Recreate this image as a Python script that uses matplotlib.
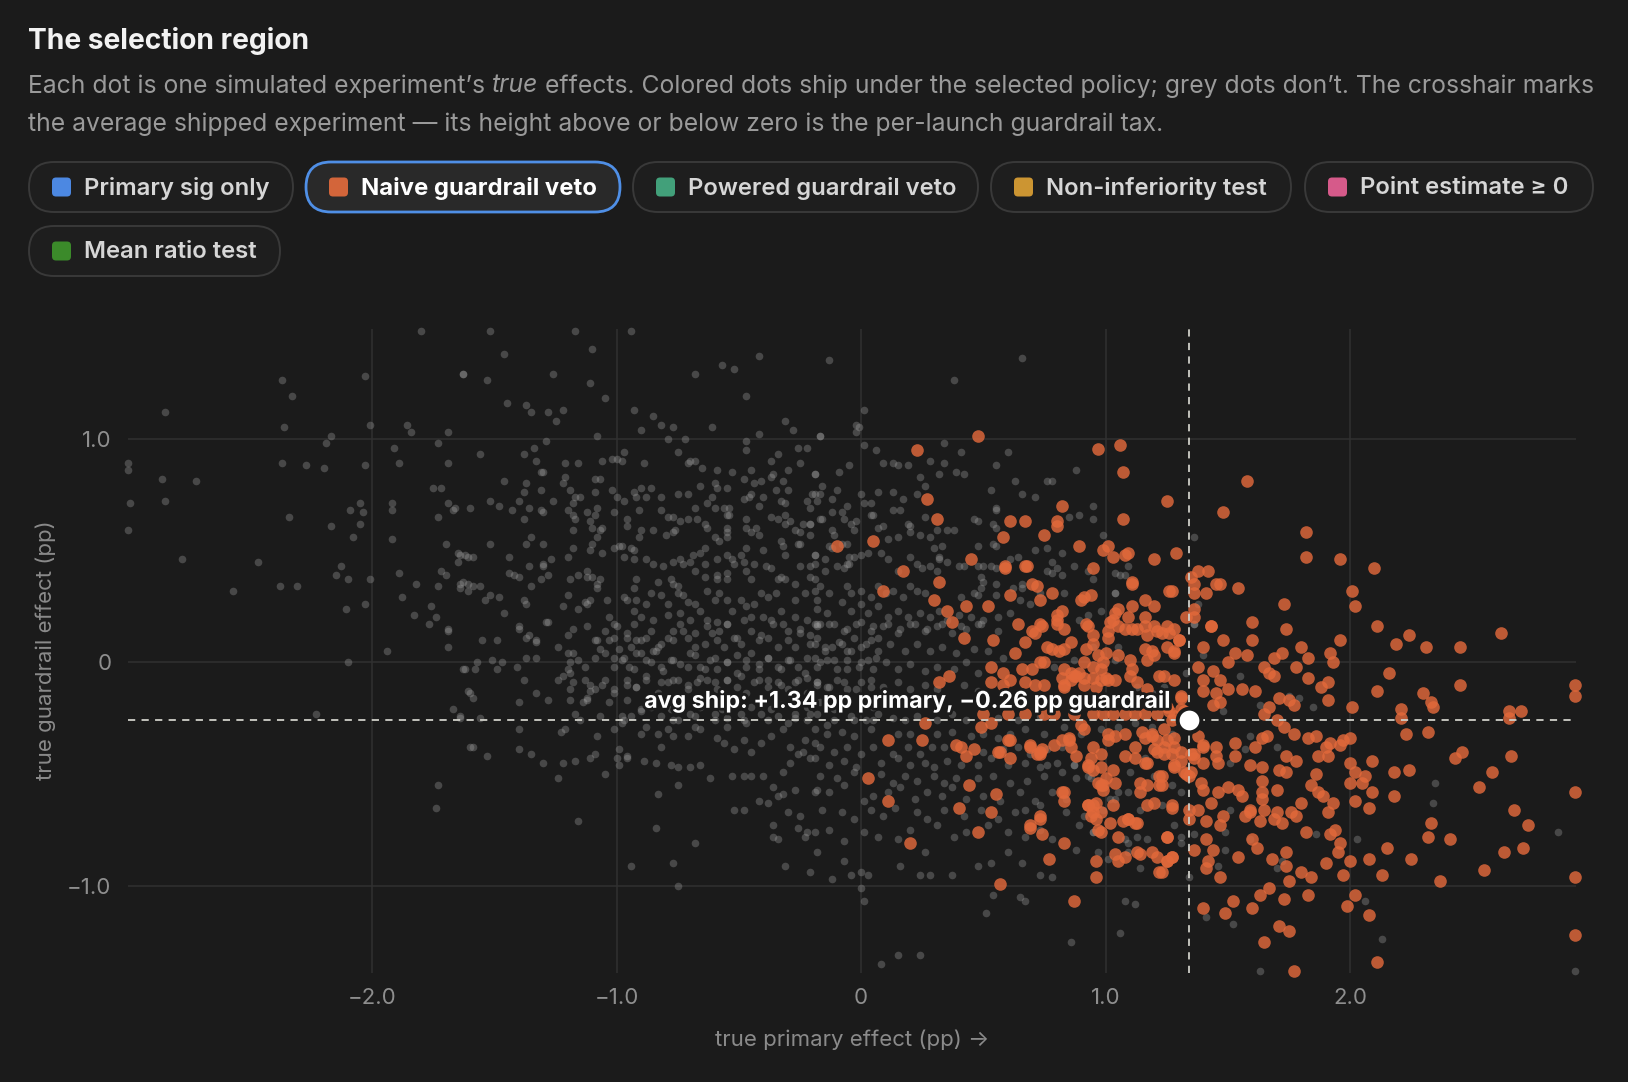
import numpy as np
import matplotlib
matplotlib.use('Agg')
import matplotlib.pyplot as plt
from matplotlib.patches import FancyBboxPatch
import matplotlib.patheffects as pe

plt.rcParams['font.family'] = ['Inter', 'DejaVu Sans']

BG = '#1b1b1b'

title = "The selection region"
sub_line_1 = [("Each dot is one simulated experiment’s ", 'normal'), ("true", 'italic'),
              (" effects. Colored dots ship under the selected policy; grey dots don’t. The crosshair marks", 'normal')]
sub_line_2 = "the average shipped experiment — its height above or below zero is the per-launch guardrail tax."

policy_labels = ["Primary sig only", "Naive guardrail veto", "Powered guardrail veto",
                 "Non-inferiority test", "Point estimate ≥ 0", "Mean ratio test"]
policy_colors = ['#4c88e2', '#d3653a', '#42a07a', '#cc9532', '#d65a8a', '#3b8a2a']
selected_policy = 1

x_ticks = [-2, -1, 0, 1, 2]
x_ticklabels = ['−2.0', '−1.0', '0', '1.0', '2.0']
y_ticks = [-1, 0, 1]
y_ticklabels = ['−1.0', '0', '1.0']
x_label = 'true primary effect (pp) →'
y_label = 'true guardrail effect (pp)'
avg_primary = 1.34
avg_guardrail = -0.26

gray_pts = [
# far left / upper left
(-1.80,1.48),(-1.63,1.29),(-2.03,1.28),(-2.37,1.26),(-2.33,1.19),(-2.85,1.12),(-2.36,1.05),(-2.01,1.06),(-1.86,1.06),(-1.84,1.03),
(-1.69,1.03),(-2.17,1.01),(-2.19,0.98),(-1.91,0.96),(-1.73,0.98),(-3.00,0.89),(-3.00,0.86),(-2.86,0.82),(-2.72,0.81),(-2.99,0.71),
(-2.85,0.72),(-3.00,0.59),(-2.37,0.89),(-2.27,0.88),(-2.20,0.87),(-2.03,0.88),(-1.89,0.89),(-1.69,0.89),(-2.34,0.65),(-2.17,0.61),
(-2.09,0.68),(-2.05,0.71),(-2.04,0.67),(-2.05,0.62),(-2.08,0.56),(-1.92,0.71),(-1.92,0.68),(-1.92,0.55),(-1.75,0.78),(-1.72,0.78),
(-1.69,0.71),(-1.67,0.68),(-1.73,0.65),(-1.70,0.53),(-1.66,0.69),(-1.65,0.49),(-1.62,0.48),(-1.65,0.45),(-1.72,0.41),(-1.70,0.39),
(-1.63,0.36),(-1.64,0.33),(-1.61,0.32),(-2.78,0.46),(-2.47,0.45),(-2.57,0.32),(-2.38,0.34),(-2.31,0.34),(-2.13,0.43),(-2.15,0.39),
(-2.10,0.37),(-2.01,0.37),(-1.89,0.40),(-1.88,0.29),(-1.82,0.35),(-1.73,0.34),(-2.11,0.24),(-2.03,0.26),(-1.83,0.21),(-1.76,0.25),
(-1.74,0.20),(-1.77,0.17),(-1.69,0.15),
(-1.69,0.14),(-1.69,0.07),(-1.94,0.05),(-2.10,-0.00),(-1.63,-0.03),(-1.61,-0.13),(-1.67,-0.21),(-1.64,-0.25),(-2.23,-0.23),(-1.60,-0.38),
(-1.73,-0.55),(-1.74,-0.65),
# upper middle-left
(-1.52,1.48),(-1.17,1.48),(-0.94,1.48),(-1.10,1.40),(-1.46,1.38),(-0.42,1.37),(-0.57,1.33),(-0.52,1.31),(-0.68,1.29),(-1.63,1.29),
(-1.26,1.29),(-1.53,1.26),(-1.11,1.25),(-0.47,1.19),(-1.05,1.18),(-1.45,1.16),(-1.37,1.15),(-1.35,1.12),(-1.28,1.12),(-1.22,1.13),
(-1.25,1.08),(-0.93,1.13),(-0.85,1.10),(-0.82,1.06),(-0.77,1.05),(-0.90,1.04),(-0.61,1.05),(-0.31,1.08),(-0.28,1.04),(-1.08,1.01),
(-1.29,0.99),(-0.79,1.00),(-0.72,1.00),(-0.47,0.99),(-0.47,0.95),(-0.42,1.02),(-0.17,1.01),(-0.26,0.96),(-0.22,0.96),(-1.56,0.93),
(-1.38,0.93),(-1.34,0.96),(-1.33,0.90),(-1.21,0.89),(-1.16,0.89),(-1.06,0.90),(-1.02,0.91),(-1.00,0.91),(-0.98,0.90),(-0.97,0.94),
(-0.89,0.89),(-0.75,0.94),(-0.70,0.90),(-0.71,0.89),(-0.68,0.90),(-0.65,0.87),(-0.59,0.86),(-0.53,0.85),(-0.48,0.82),(-0.45,0.86),
(-0.37,0.90),(-0.34,0.93),(-0.25,0.89),(-0.44,0.80),(-0.41,0.81),(-0.37,0.83),(-0.36,0.84),(-0.32,0.81),(-0.30,0.86),(-0.19,0.84),
(-1.31,0.85),(-1.30,0.85),(-1.46,0.81),(-1.37,0.80),(-1.22,0.80),(-1.21,0.83),(-1.09,0.82),(-1.07,0.82),(-1.38,0.76),(-1.31,0.77),
(-1.26,0.72),(-1.19,0.77),(-1.17,0.74),(-1.15,0.74),(-1.09,0.76),(-1.02,0.77),(-1.00,0.74),(-0.97,0.72),(-0.93,0.76),(-0.90,0.78),
(-0.86,0.78),(-0.92,0.74),(-0.88,0.74),(-0.82,0.74),(-0.75,0.75),(-0.71,0.75),(-0.66,0.79),(-0.60,0.80),(-0.59,0.78),(-0.55,0.78),
(-0.61,0.74),(-0.63,0.71),(-0.60,0.69),(-0.56,0.69),(-0.54,0.69),(-0.55,0.66),(-0.48,0.73),(-0.46,0.74),(-0.45,0.75),(-0.42,0.70),
(-0.40,0.74),(-0.35,0.77),(-0.30,0.77),(-0.33,0.72),(-0.31,0.71),(-0.22,0.72),(-0.20,0.75),(-0.18,0.72),(-0.21,0.69),(-1.60,0.69),
(-1.52,0.72),(-1.48,0.70),(-1.43,0.68),(-1.40,0.72),(-1.36,0.69),(-1.31,0.68),(-1.30,0.67),(-1.20,0.68),(-1.18,0.71),(-1.18,0.66),
(-1.17,0.64),(-1.12,0.67),(-1.11,0.63),(-1.09,0.66),(-1.08,0.69),(-1.10,0.60),(-1.07,0.59),(-1.06,0.60),(-1.08,0.56),(-1.38,0.64),
(-1.18,0.59),(-1.10,0.53),(-1.35,0.56),(-1.37,0.53),(-1.30,0.53),(-1.01,0.67),(-0.96,0.61),(-0.96,0.64),(-0.91,0.68),(-0.90,0.59),
(-0.91,0.56),(-0.85,0.59),(-0.82,0.68),(-0.79,0.65),(-0.77,0.65),(-0.74,0.63),(-0.80,0.57),(-0.77,0.58),(-0.76,0.59),(-0.71,0.64),
(-0.67,0.64),(-0.68,0.69),(-0.64,0.62),(-0.63,0.60),(-0.60,0.56),(-0.58,0.54),(-0.55,0.60),(-0.55,0.58),(-0.55,0.56),(-0.54,0.66),
(-0.47,0.64),(-0.47,0.60),(-0.45,0.58),(-0.43,0.60),(-0.42,0.57),(-0.47,0.51),(-0.40,0.50),(-0.37,0.65),(-0.34,0.64),(-0.31,0.66),
(-0.31,0.62),(-0.29,0.63),(-0.27,0.59),(-0.25,0.58),(-0.24,0.62),(-0.21,0.62),(-0.17,0.64),(-0.33,0.54),(-0.32,0.52),(-0.31,0.48),
(-0.26,0.53),(-0.25,0.53),(-1.52,0.53),(-1.64,0.48),(-1.61,0.47),(-1.59,0.47),(-1.44,0.47),(-1.36,0.43),(-1.30,0.44),(-1.30,0.43),
(-1.27,0.46),(-1.44,0.40),(-1.42,0.39),(-1.40,0.38),(-1.28,0.39),(-1.31,0.37),(-1.20,0.47),(-1.18,0.51),(-1.11,0.50),(-1.06,0.49),
(-1.19,0.37),(-1.16,0.39),(-1.12,0.41),(-1.12,0.38),(-1.10,0.38),(-1.08,0.35),(-1.07,0.37),(-1.01,0.51),(-0.99,0.52),(-0.98,0.52),
(-0.94,0.51),(-0.93,0.50),(-0.97,0.47),(-0.93,0.46),(-0.88,0.46),(-0.85,0.44),(-0.81,0.43),(-0.92,0.37),(-0.93,0.33),(-0.83,0.36),
(-0.78,0.37),(-0.77,0.35),(-0.75,0.34),(-0.77,0.45),(-0.74,0.46),(-0.73,0.44),(-0.70,0.45),(-0.69,0.48),(-0.66,0.49),(-0.64,0.51),
(-0.68,0.41),(-0.64,0.44),(-0.59,0.46),(-0.55,0.48),(-0.53,0.46),(-0.52,0.44),(-0.64,0.38),(-0.59,0.37),(-0.59,0.39),(-0.55,0.40),
(-0.55,0.37),(-0.49,0.48),(-0.48,0.45),(-0.47,0.41),(-0.45,0.37),(-0.44,0.44),(-0.39,0.43),(-0.37,0.42),(-0.34,0.37),(-0.33,0.38),
(-0.31,0.37),(-0.27,0.35),(-0.25,0.43),(-0.21,0.38),(-0.21,0.43),(-0.19,0.48),(-1.64,0.35),(-1.61,0.35),(-1.59,0.34),(-1.56,0.34),
(-1.54,0.28),(-1.52,0.30),(-1.48,0.29),(-1.38,0.28),(-1.37,0.26),(-1.35,0.34),(-1.46,0.22),(-1.40,0.15),(-1.29,0.18),(-1.22,0.25),
(-1.20,0.30),(-1.16,0.24),(-1.12,0.26),(-1.11,0.28),(-1.13,0.27),(-1.08,0.33),(-1.04,0.28),(-1.03,0.20),(-1.01,0.17),(-0.97,0.29),
(-0.96,0.28),(-0.92,0.28),(-0.88,0.26),(-0.86,0.31),(-0.82,0.30),(-0.79,0.26),(-0.75,0.31),(-0.73,0.30),(-0.71,0.27),(-0.68,0.26),
(-0.66,0.23),(-0.93,0.23),(-0.90,0.20),(-0.85,0.19),(-0.79,0.21),(-0.74,0.22),(-0.70,0.19),(-0.63,0.32),(-0.60,0.28),(-0.58,0.31),
(-0.55,0.28),(-0.53,0.23),(-0.49,0.28),(-0.47,0.25),(-0.44,0.26),(-0.41,0.31),(-0.38,0.29),(-0.35,0.31),(-0.33,0.23),(-0.27,0.28),
(-0.23,0.31),(-0.19,0.32),(-0.18,0.28),(-0.63,0.19),(-0.59,0.18),(-0.55,0.17),(-0.48,0.19),(-0.45,0.20),(-0.40,0.20),(-0.37,0.19),
(-0.32,0.17),(-0.27,0.20),(-0.22,0.19),(-0.19,0.17),
# upper middle-right
(-0.13,1.35),(0.66,1.36),(0.38,1.26),(0.01,1.13),(-0.02,1.06),(-0.01,1.05),(-0.02,1.03),(-0.17,1.01),(0.01,0.97),(0.06,0.95),
(0.34,0.98),(0.41,0.94),(0.60,0.94),(-0.05,0.88),(0.09,0.89),(0.13,0.89),(0.15,0.88),(0.19,0.88),(0.28,0.90),(0.34,0.89),
(0.55,0.88),(-0.09,0.85),(-0.19,0.84),(0.32,0.84),(0.39,0.85),(0.42,0.84),(0.88,0.86),(0.24,0.83),(0.26,0.79),(0.63,0.81),
(0.76,0.81),(0.78,0.81),(-0.16,0.79),(-0.10,0.77),(-0.00,0.75),(0.07,0.76),(0.13,0.76),(0.23,0.75),(0.53,0.77),(0.66,0.75),
(0.71,0.74),(-0.19,0.75),(-0.17,0.75),(-0.12,0.73),(-0.06,0.70),(0.01,0.71),(0.04,0.71),(0.17,0.73),(0.13,0.68),(0.16,0.68),
(0.55,0.68),(0.55,0.69),(0.95,0.70),(0.95,0.64),(0.85,0.65),(0.89,0.66),(-0.12,0.67),(-0.08,0.67),(-0.07,0.64),(-0.16,0.64),
(0.04,0.66),(0.05,0.66),(-0.04,0.62),(-0.02,0.63),(-0.03,0.59),(0.07,0.60),(0.09,0.61),(0.19,0.62),(0.20,0.61),(0.20,0.58),
(0.24,0.57),(0.28,0.56),(0.11,0.55),(0.15,0.56),(0.26,0.65),(0.31,0.59),(0.35,0.59),(0.38,0.59),(0.46,0.64),(0.48,0.63),
(0.54,0.62),(0.55,0.60),(0.54,0.53),(0.55,0.52),(-0.12,0.59),(-0.11,0.57),(-0.21,0.62),(-0.21,0.57),(-0.13,0.52),(-0.12,0.51),
(-0.08,0.53),(-0.06,0.53),(-0.19,0.48),(-0.15,0.46),(-0.05,0.47),(-0.05,0.44),(-0.03,0.47),(-0.00,0.48),(0.03,0.49),(0.08,0.49),
(0.11,0.46),(0.15,0.41),(0.20,0.47),(0.23,0.44),(0.30,0.51),(0.33,0.52),(0.32,0.47),(0.32,0.46),(0.35,0.45),(0.25,0.42),
(0.28,0.43),(0.31,0.41),(-0.19,0.44),(-0.15,0.41),(-0.10,0.43),(-0.07,0.42),(-0.06,0.44),(0.48,0.52),(0.40,0.43),(0.42,0.43),
(0.48,0.43),(0.50,0.43),(0.53,0.43),(0.55,0.42),(0.49,0.38),(0.50,0.36),(0.55,0.35),(0.61,0.46),(0.64,0.47),(0.71,0.50),
(0.76,0.51),(0.82,0.49),(0.78,0.45),(0.80,0.42),(0.78,0.40),(0.93,0.41),(1.09,0.43),(1.08,0.39),(1.06,0.39),(0.99,0.57),
(0.62,0.33),(0.66,0.33),(0.66,0.35),(0.73,0.31),(0.55,0.30),(0.65,0.28),(0.69,0.26),(0.41,0.29),(0.46,0.31),(0.48,0.30),
(0.49,0.33),(0.40,0.21),(0.45,0.20),(0.50,0.19),(0.56,0.20),(0.61,0.22),(0.93,0.21),(1.04,0.31),
(-0.19,0.37),(-0.17,0.34),(-0.13,0.31),(-0.06,0.34),(-0.04,0.31),(0.00,0.32),(0.04,0.29),(0.07,0.34),(0.10,0.31),(0.13,0.32),
(0.17,0.29),(0.20,0.34),(0.23,0.32),(0.26,0.31),(-0.18,0.24),(-0.14,0.22),(-0.08,0.27),(-0.04,0.23),(-0.00,0.26),(0.03,0.22),
(0.07,0.25),(0.11,0.20),(0.15,0.23),(0.19,0.20),(0.24,0.22),(0.28,0.20),(0.32,0.23),(0.35,0.19),(-0.17,0.17),(-0.11,0.17),
(-0.06,0.15),(-0.00,0.18),(0.05,0.16),(0.11,0.17),(0.16,0.15),(0.22,0.17),(0.27,0.15),(0.33,0.17),(0.41,0.16),(0.48,0.17),
# lower left
(-1.55,0.10),(-1.49,0.10),(-1.40,0.16),(-1.37,0.11),(-1.33,0.10),(-1.28,0.18),(-1.24,0.07),(-1.20,0.12),(-1.18,0.04),(-1.37,0.02),
(-1.33,0.02),(-1.36,0.12),(-1.33,0.09),(-1.62,-0.03),(-1.58,-0.03),(-1.57,-0.00),(-1.51,0.01),(-1.49,-0.03),(-1.47,-0.00),(-1.41,-0.02),
(-1.38,-0.08),(-1.24,-0.08),(-1.20,-0.03),(-1.19,-0.00),(-1.11,-0.10),(-1.06,-0.10),(-1.01,-0.12),(-1.01,0.02),(-1.60,-0.14),(-1.59,-0.16),
(-1.40,-0.18),(-1.33,-0.14),(-1.28,-0.17),(-1.19,-0.12),(-1.19,-0.05),(-1.14,-0.18),(-1.12,-0.17),(-1.11,-0.13),(-1.17,-0.23),(-1.09,0.10),
(-1.03,0.10),(-1.07,0.06),(-1.56,-0.25),(-1.64,-0.24),(-1.40,-0.30),(-1.23,-0.31),(-1.21,-0.30),(-1.08,-0.33),(-1.01,-0.30),(-0.98,-0.27),
(-0.98,-0.24),(-1.59,-0.38),(-1.53,-0.42),(-1.40,-0.39),(-1.35,-0.41),(-1.30,-0.45),(-1.22,-0.45),(-1.17,-0.44),(-1.11,-0.43),(-1.09,-0.41),
(-1.05,-0.50),(-1.24,-0.52),(-0.99,-0.39),(-0.96,-0.42),(-0.99,-0.46),(-1.16,-0.71),(-0.84,-0.74),(-0.68,-0.81),(-0.94,-0.91),(-0.77,-0.90),
(-0.75,-1.00),
(-1.00,0.16),(-0.96,0.13),(-0.93,0.17),(-0.90,0.10),(-0.85,0.05),(-0.82,0.08),(-0.77,0.14),(-0.74,0.17),(-0.68,0.13),(-0.63,0.16),
(-0.58,0.14),(-0.55,0.17),(-0.51,0.11),(-0.45,0.14),(-0.41,0.12),(-0.36,0.17),(-0.30,0.14),(-0.25,0.15),(-0.21,0.12),(-0.18,0.17),
(-0.97,0.02),(-0.93,-0.03),(-0.90,0.04),(-0.86,-0.00),(-0.81,-0.04),(-0.77,0.01),(-0.71,-0.02),(-0.68,0.03),(-0.64,-0.03),(-0.60,0.02),
(-0.55,-0.00),(-0.51,-0.05),(-0.47,0.01),(-0.42,-0.03),(-0.38,0.02),(-0.33,-0.03),(-0.29,0.01),(-0.23,-0.05),(-0.19,0.02),
(-0.96,-0.10),(-0.92,-0.11),(-0.88,-0.06),(-0.82,-0.09),(-0.77,-0.08),(-0.71,-0.10),(-0.66,-0.07),(-0.60,-0.09),(-0.55,-0.08),(-0.49,-0.06),
(-0.44,-0.09),(-0.38,-0.08),(-0.33,-0.10),(-0.27,-0.09),(-0.22,-0.07),(-0.18,-0.10),
(-0.94,-0.24),(-0.90,-0.22),(-0.82,-0.24),(-0.77,-0.26),(-0.68,-0.24),(-0.60,-0.23),(-0.55,-0.25),(-0.48,-0.26),(-0.41,-0.23),(-0.34,-0.24),
(-0.27,-0.25),(-0.21,-0.23),(-0.90,-0.32),(-0.88,-0.29),(-0.83,-0.32),(-0.82,-0.38),(-0.79,-0.30),(-0.77,-0.33),(-0.71,-0.33),(-0.66,-0.30),
(-0.59,-0.34),(-0.56,-0.36),(-0.52,-0.39),(-0.48,-0.35),(-0.45,-0.40),(-0.41,-0.36),(-0.37,-0.33),(-0.32,-0.30),(-0.29,-0.38),(-0.26,-0.41),
(-0.23,-0.35),(-0.19,-0.36),(-1.00,-0.43),(-0.96,-0.43),(-0.89,-0.44),(-0.84,-0.45),(-0.78,-0.46),(-0.75,-0.47),(-0.70,-0.47),(-0.66,-0.46),
(-0.62,-0.52),(-0.53,-0.51),(-0.48,-0.51),(-0.45,-0.51),(-0.40,-0.51),(-0.36,-0.56),(-0.32,-0.49),(-0.29,-0.45),(-0.24,-0.40),(-0.21,-0.43),
(-0.83,-0.59),(-0.75,-0.55),(-0.42,-0.62),(-0.38,-0.63),(-0.34,-0.60),(-0.32,-0.59),(-0.27,-0.57),(-0.19,-0.58),(-0.52,-0.66),(-0.48,-0.66),
(-0.30,-0.67),(-0.25,-0.69),(-0.36,-0.73),(-0.36,-0.78),(-0.34,-0.79),(-0.26,-0.74),(-0.22,-0.76),(-0.23,-0.78),(-0.31,-0.91),(-0.21,-0.94),
# dense centre band (near zero)
(-1.18,0.15),(-1.12,0.16),(-1.08,0.10),(-1.05,0.14),(-1.01,0.11),(-0.99,0.06),(-0.96,0.11),(-0.94,0.07),(-0.92,0.10),(-0.88,0.11),
(-0.86,0.14),(-0.83,0.07),(-0.79,0.11),(-0.77,0.10),(-0.73,0.14),(-0.71,0.11),(-0.68,0.07),(-0.64,0.08),(-0.61,0.13),(-0.59,0.10),
(-0.56,0.07),(-0.52,0.11),(-0.49,0.08),(-0.45,0.04),(-0.42,0.10),(-0.38,0.11),(-0.34,0.07),(-0.30,0.10),(-0.27,0.07),(-0.25,0.13),
(-0.21,0.08),(-0.18,0.11),(-0.15,0.05),(-0.12,0.07),(-0.08,0.08),(-0.06,0.05),(-0.03,0.11),(0.00,0.07),(0.04,0.10),(0.07,0.11),
(-1.20,0.04),(-1.16,0.01),(-1.13,-0.02),(-1.09,0.02),(-1.05,0.04),(-1.01,-0.02),(-0.98,0.01),(-0.95,-0.02),(-0.92,0.04),(-0.88,0.01),
(-0.84,0.05),(-0.82,-0.02),(-0.78,0.01),(-0.74,-0.01),(-0.70,0.04),(-0.66,-0.02),(-0.62,0.01),(-0.59,-0.03),(-0.55,0.00),(-0.51,0.03),
(-0.47,-0.02),(-0.42,-0.01),(-0.38,0.02),(-0.34,-0.02),(-0.30,0.01),(-0.26,-0.02),(-0.22,0.02),(-0.18,-0.02),(-0.14,0.01),(-0.10,-0.03),
(-0.06,0.01),(-0.01,-0.02),(0.03,0.01),(0.06,0.02),
(-1.22,-0.06),(-1.18,-0.09),(-1.13,-0.08),(-1.09,-0.12),(-1.05,-0.08),(-1.01,-0.14),(-0.96,-0.08),(-0.92,-0.11),(-0.88,-0.08),(-0.83,-0.14),
(-0.79,-0.09),(-0.75,-0.08),(-0.71,-0.12),(-0.67,-0.09),(-0.63,-0.08),(-0.59,-0.12),(-0.55,-0.08),(-0.51,-0.11),(-0.47,-0.14),(-0.42,-0.08),
(-0.38,-0.11),(-0.34,-0.09),(-0.30,-0.12),(-0.26,-0.08),(-0.22,-0.14),(-0.18,-0.09),(-0.14,-0.11),(-0.10,-0.08),(-0.06,-0.12),(0.00,-0.09),
(0.04,-0.11),
(-1.19,-0.17),(-1.12,-0.16),(-1.03,-0.18),(-0.96,-0.17),(-0.90,-0.21),(-0.86,-0.20),(-0.82,-0.17),(-0.78,-0.21),(-0.74,-0.18),(-0.70,-0.23),
(-0.66,-0.20),(-0.62,-0.17),(-0.57,-0.21),(-0.53,-0.18),(-0.49,-0.23),(-0.45,-0.20),(-0.41,-0.17),(-0.37,-0.21),(-0.33,-0.19),(-0.27,-0.23),
(-0.22,-0.20),(-0.17,-0.18),(-0.11,-0.21),(-0.06,-0.18),(0.00,-0.21),(0.05,-0.20),
(-1.15,-0.26),(-1.07,-0.24),(-0.97,-0.26),(-0.75,-0.26),(-0.68,-0.29),(-0.60,-0.26),(-0.55,-0.29),(-0.47,-0.27),(-0.38,-0.26),(-0.30,-0.27),
(-0.22,-0.26),(-0.14,-0.28),(-0.03,-0.26),(0.05,-0.26),
# lower middle
(-0.18,0.16),(-0.13,0.17),(-0.07,0.14),(-0.02,0.17),(0.04,0.14),(0.09,0.16),(0.15,0.13),(0.20,0.17),(0.26,0.14),(0.31,0.16),
(0.37,0.13),(0.43,0.15),(0.49,0.17),(0.56,0.14),(-0.19,0.08),(-0.15,0.07),(-0.09,0.09),(-0.04,0.05),(0.02,0.08),(0.07,0.05),
(0.12,0.08),(0.18,0.05),(0.23,0.08),(0.28,0.05),(0.33,0.07),(0.39,0.04),(0.46,0.06),(0.52,0.05),(0.58,0.02),(-0.17,-0.00),
(-0.11,0.01),(-0.06,-0.03),(-0.00,0.00),(0.05,-0.03),(0.10,-0.00),(0.15,-0.03),(0.20,-0.01),(0.26,-0.04),(0.31,-0.02),(0.38,-0.03),
(0.43,-0.00),(0.48,-0.05),(-0.18,-0.09),(-0.13,-0.11),(-0.07,-0.09),(-0.02,-0.12),(0.04,-0.08),(0.09,-0.11),(0.15,-0.09),(0.20,-0.12),
(0.26,-0.10),(0.31,-0.12),(0.42,-0.10),(0.48,-0.13),
(-0.18,-0.23),(-0.11,-0.26),(-0.04,-0.24),(0.02,-0.26),(0.07,-0.23),(0.13,-0.25),(0.18,-0.26),(0.23,-0.24),(0.31,-0.26),(0.37,-0.23),
(0.43,-0.26),(0.56,-0.25),(0.64,-0.26),(0.73,-0.24),(-0.19,-0.30),(-0.14,-0.32),(-0.08,-0.31),(-0.03,-0.33),(0.04,-0.30),(0.15,-0.32),
(0.20,-0.32),(0.31,-0.32),(0.37,-0.31),(0.45,-0.33),(0.50,-0.32),(0.56,-0.34),(0.61,-0.32),(0.67,-0.30),(0.75,-0.32),(-0.17,-0.38),
(-0.11,-0.40),(-0.06,-0.38),(-0.00,-0.41),(0.05,-0.38),(0.13,-0.41),(0.19,-0.38),(0.24,-0.41),(0.29,-0.38),(0.34,-0.38),(0.50,-0.40),
(0.58,-0.39),(0.64,-0.38),(0.69,-0.41),(0.76,-0.39),(0.82,-0.38),(-0.19,-0.43),(-0.13,-0.46),(-0.07,-0.44),(-0.02,-0.47),(0.08,-0.45),
(0.15,-0.43),(0.20,-0.46),(0.26,-0.45),(0.30,-0.47),(0.35,-0.44),(0.41,-0.46),(0.48,-0.46),(0.53,-0.43),(0.60,-0.46),(0.67,-0.45),
(0.73,-0.47),(0.80,-0.45),(0.87,-0.46),(-0.17,-0.51),(-0.10,-0.52),(-0.03,-0.49),(0.08,-0.50),(0.13,-0.54),(0.18,-0.51),(0.23,-0.53),
(0.30,-0.51),(0.34,-0.54),(0.39,-0.52),(0.48,-0.52),(0.54,-0.51),(0.61,-0.54),(0.68,-0.53),(0.75,-0.51),(0.88,-0.52),(0.93,-0.51),
(-0.18,-0.57),(-0.13,-0.58),(-0.07,-0.55),(0.01,-0.62),(0.05,-0.60),(0.11,-0.58),(0.16,-0.56),(0.22,-0.61),(0.27,-0.58),(0.33,-0.60),
(0.37,-0.56),(0.43,-0.61),(0.50,-0.60),(0.57,-0.62),(0.65,-0.58),(0.71,-0.62),(0.78,-0.58),(0.84,-0.61),(1.02,-0.61),(1.09,-0.58),
(-0.16,-0.66),(-0.08,-0.67),(-0.03,-0.70),(0.04,-0.66),(0.09,-0.69),(0.14,-0.65),(0.23,-0.67),(0.27,-0.70),(0.34,-0.66),(0.42,-0.69),
(0.49,-0.66),(0.56,-0.70),(0.63,-0.67),(0.67,-0.66),(0.73,-0.64),(0.91,-0.69),(0.99,-0.66),(1.14,-0.66),(1.23,-0.64),(-0.19,-0.76),
(-0.13,-0.75),(-0.07,-0.80),(0.01,-0.76),(0.07,-0.78),(0.15,-0.79),(0.20,-0.75),(0.26,-0.85),(0.31,-0.73),(0.38,-0.78),(0.43,-0.76),
(0.52,-0.73),(0.60,-0.76),(0.67,-0.78),(0.73,-0.75),(0.78,-0.79),(0.88,-0.84),(0.95,-0.76),(1.08,-0.79),(1.13,-0.78),(-0.18,-0.85),
(-0.12,-0.97),(-0.07,-0.89),(-0.04,-0.95),(-0.00,-0.94),(0.03,-0.95),(0.16,-0.91),(0.24,-0.95),(0.28,-0.95),(0.37,-0.95),(0.48,-0.91),
(0.53,-0.90),(0.60,-0.85),(0.66,-0.90),(0.73,-0.95),(0.78,-0.96),(0.97,-0.85),(1.01,-0.88),(1.09,-0.85),(1.14,-0.92),(-0.00,-1.01),
(0.01,-1.07),(0.08,-1.35),(0.15,-1.31),(0.24,-1.31),(0.51,-1.12),(0.54,-1.04),(0.65,-1.05),(0.67,-1.07),(0.86,-1.25),(1.06,-1.21),
(1.08,-1.07),(1.12,-1.08),
# among shipped cloud
(0.76,0.41),(0.82,0.39),(0.87,0.43),(0.95,0.37),(1.04,0.40),(0.83,0.31),(0.89,0.19),(0.98,0.23),(1.04,0.31),(0.95,0.07),
(1.05,0.07),(0.87,0.01),(0.79,-0.02),(1.04,0.01),(1.13,-0.11),(1.19,-0.14),(1.24,-0.11),(0.95,-0.17),(0.87,-0.18),(0.80,-0.18),
(0.73,-0.20),(0.83,-0.29),(0.90,-0.32),(0.98,-0.30),(1.05,-0.29),(1.12,-0.27),(1.19,-0.29),(1.27,-0.32),(0.76,-0.46),(0.82,-0.49),
(0.87,-0.46),(0.94,-0.52),(1.05,-0.58),(1.10,-0.49),(1.16,-0.43),(1.20,-0.51),(1.27,-0.55),(1.31,-0.58),(0.84,-0.67),(0.89,-0.73),
(0.95,-0.76),(1.04,-0.61),(1.09,-0.81),(1.17,-0.79),(1.28,-0.73),(1.34,-0.67),
(1.36,0.17),(1.40,0.03),(1.33,-0.05),(1.55,-0.06),(1.48,-0.22),(1.63,-0.19),(1.85,-0.20),(1.75,-0.15),(1.79,-0.16),(1.59,-0.33),
(1.57,-0.39),(1.51,-0.45),(1.70,-0.38),(2.35,-0.54),(2.34,-0.63),(1.51,-0.66),(1.36,-0.77),(1.31,-0.78),(1.31,-0.81),(1.49,-0.76),
(1.59,-0.79),(1.49,-0.84),(2.03,-0.79),(1.86,-0.77),(1.46,-0.91),(1.70,-0.92),(1.72,-0.89),(1.34,-0.96),(2.06,-1.07),(1.41,-1.14),
(1.52,-1.17),(2.13,-1.24),(1.63,-1.38),(2.85,-0.76),(2.92,-1.38),(1.36,0.56),(1.38,0.26),(1.36,0.17),
]

ship_pts = [
(0.48,1.01),(0.23,0.95),(0.97,0.955),(1.06,0.97),(1.07,0.85),(0.27,0.73),(0.31,0.64),(1.25,0.72),(0.82,0.70),(0.61,0.63),
(0.67,0.63),(0.80,0.63),(0.80,0.61),(0.75,0.57),(0.58,0.56),(0.89,0.52),(1.01,0.52),(0.99,0.50),(1.03,0.47),(1.08,0.48),
(1.09,0.49),(1.07,0.64),(1.20,0.46),(0.95,0.42),(1.11,0.36),(1.26,0.32),(0.05,0.54),(-0.10,0.52),(0.45,0.46),(0.59,0.42),
(0.68,0.43),(0.17,0.41),(0.32,0.36),(0.09,0.32),(0.30,0.28),(0.35,0.23),(0.37,0.18),(0.43,0.25),(0.52,0.25),(0.61,0.30),
(0.64,0.17),(0.70,0.35),(0.72,0.34),(0.73,0.28),(0.78,0.31),(0.80,0.21),(0.82,0.23),(0.91,0.29),(0.94,0.30),(1.05,0.24),
(1.04,0.22),(1.11,0.25),(1.16,0.28),(1.20,0.25),(1.02,0.18),(1.09,0.20),(0.73,0.17),(0.80,0.17),(0.92,0.17),
(1.58,0.81),(1.48,0.67),(1.82,0.58),(1.82,0.47),(1.96,0.46),(2.10,0.42),(1.29,0.49),(1.38,0.41),(1.42,0.41),(1.36,0.35),
(1.45,0.35),(1.47,0.35),(1.41,0.31),(1.54,0.33),(2.01,0.32),(2.02,0.25),(1.73,0.26),(1.36,0.24),(1.33,0.20),(1.43,0.16),
(1.60,0.18),(1.74,0.15),(1.28,0.15),(1.25,0.16),
(0.42,0.11),(0.54,0.10),(0.36,-0.06),(0.32,-0.09),(0.26,-0.27),(0.11,-0.35),(0.25,-0.35),(0.03,-0.52),(0.11,-0.62),(0.20,-0.81),
(0.40,-0.65),(0.44,-0.55),(0.41,-0.38),(0.39,-0.37),(0.43,-0.42),(0.46,-0.39),(0.53,-0.67),(0.55,-0.59),(0.48,-0.76),(0.57,-0.99),
(0.87,-1.07),(0.50,-0.23),(0.49,-0.29),(0.53,-0.27),(0.53,-0.02),(0.58,-0.05),(0.53,-0.09),(0.61,-0.35),(0.56,-0.40),(0.57,-0.40),
(0.69,-0.37),(0.73,-0.40),(0.73,-0.41),(0.79,-0.37),(0.85,-0.34),(0.86,-0.38),(0.88,-0.42),(0.83,-0.58),(0.83,-0.62),(0.69,-0.74),
(0.73,-0.70),(0.74,-0.77),(0.83,-0.81),(0.77,-0.88),(0.93,-0.46),(0.95,-0.48),(0.98,-0.47),(1.00,-0.52),(0.99,-0.55),(0.98,-0.55),
(1.03,-0.48),(0.93,-0.64),(0.96,-0.63),(0.95,-0.67),(0.96,-0.70),(1.03,-0.64),(0.98,-0.76),(1.02,-0.72),(1.07,-0.71),(1.09,-0.70),
(1.12,-0.72),(0.96,-0.89),(0.96,-0.96),(1.04,-0.86),(1.05,-0.89),(1.14,-0.86),(1.21,-0.87),(1.22,-0.94),(1.25,-0.89),(1.25,-0.78),
(1.20,-0.63),(1.14,-0.54),(1.14,-0.58),(1.22,-0.51),(1.23,-0.55),(1.17,-0.45),(1.08,-0.42),(1.12,-0.38),(1.21,-0.40),(1.24,-0.41),
(1.16,-0.34),(1.19,-0.32),(1.08,-0.32),(1.01,-0.32),(0.91,-0.30),(0.90,-0.28),
(0.70,0.14),(0.74,0.16),(0.83,0.15),(1.01,0.14),(1.05,0.16),(1.08,0.15),(1.11,0.15),(1.16,0.16),(1.20,0.16),(1.23,0.13),
(0.63,0.04),(0.67,0.09),(0.66,-0.03),(0.70,-0.03),(0.73,0.00),(0.75,0.00),(0.78,0.06),(0.81,0.05),(0.83,0.06),(0.83,-0.03),
(0.86,-0.05),(0.88,-0.06),(0.91,0.00),(0.95,0.08),(0.98,-0.08),(0.99,0.00),(1.00,-0.07),(1.05,0.03),(1.10,0.01),(1.11,-0.03),
(1.10,-0.06),(1.16,0.06),(1.20,0.03),(1.22,-0.06),(1.13,-0.09),(1.17,-0.12),(0.96,-0.11),(0.91,-0.10),(0.86,-0.08),(0.83,-0.10),
(0.75,-0.10),(0.71,-0.10),(0.67,-0.09),(0.61,-0.08),(0.58,-0.10),
(0.60,-0.23),(0.67,-0.23),(0.75,-0.23),(0.79,-0.23),(0.87,-0.23),(0.95,-0.23),(0.99,-0.23),(1.03,-0.23),(1.08,-0.23),(1.12,-0.23),
(1.16,-0.23),(1.21,-0.23),
(0.59,0.43),(0.67,0.43),(0.80,0.19),(0.71,0.13),(0.76,0.07),(0.86,0.09),(0.90,0.28),(0.93,0.16),(0.95,0.12),(0.92,0.06),
(0.97,0.03),(0.95,-0.02),(1.00,0.04),(1.01,0.11),(1.03,0.19),(1.13,0.15),(1.16,0.20),(1.11,0.35),(1.27,0.32),(1.30,0.10),
(1.25,0.07),(1.28,0.05),(1.35,0.38),(1.36,0.31),(1.36,0.20),(1.19,0.05),(1.17,0.01),(1.21,0.14),(1.17,0.12),
(0.82,-0.07),(0.83,-0.11),(0.87,-0.06),(0.89,-0.05),(0.91,-0.07),(0.95,-0.07),(0.98,-0.03),(1.01,-0.08),(1.04,-0.08),(1.31,-0.15),
(1.32,-0.22),(1.34,-0.24),(1.28,-0.24),(1.26,-0.22),(1.08,-0.18),(1.15,-0.31),(1.19,-0.33),(1.21,-0.35),(1.25,-0.35),(1.28,-0.38),
(1.31,-0.40),(1.35,-0.41),(1.04,-0.33),(1.01,-0.35),(0.95,-0.38),(0.98,-0.41),(0.94,-0.43),(0.93,-0.47),(0.85,-0.35),(0.82,-0.35),
(0.74,-0.39),(0.72,-0.41),(0.69,-0.38),(0.60,-0.35),(0.61,-0.43),(0.97,-0.54),(0.99,-0.57),(1.04,-0.54),(0.95,-0.64),(0.98,-0.67),
(0.97,-0.75),(1.09,-0.70),(1.13,-0.72),(1.17,-0.64),(1.17,-0.55),(1.22,-0.55),(1.12,-0.43),(1.16,-0.45),(1.20,-0.39),(1.27,-0.64),
(1.28,-0.47),(1.32,-0.49),(1.34,-0.51),(0.82,-0.58),(0.73,-0.69),(0.69,-0.73),(0.93,-0.64),(0.94,-0.69),(1.05,-0.78),(1.08,-0.87),
(1.13,-0.85),(1.19,-0.85),(1.27,-0.87),(1.36,-0.84),
(2.11,0.16),(2.24,0.12),(2.19,0.08),(2.31,0.07),(2.45,0.07),(2.62,0.13),(1.96,0.10),(1.60,0.10),(1.48,0.10),(1.40,0.07),
(1.43,0.16),(1.28,0.04),(1.26,0.13),(1.30,0.10),(1.53,0.04),(1.58,0.03),(1.50,-0.00),(1.38,-0.02),(1.69,0.02),(1.72,0.04),
(1.80,0.07),(1.83,0.02),(1.78,-0.02),(1.65,-0.02),(1.67,-0.05),(1.69,-0.06),(1.92,0.04),(1.93,-0.00),(2.16,-0.05),(2.45,-0.10),
(2.11,-0.13),(2.30,-0.14),(2.33,-0.18),(2.34,-0.20),(2.21,-0.21),(2.21,-0.25),(2.01,-0.20),(1.91,-0.17),(1.83,-0.07),(1.88,-0.11),
(1.91,-0.09),(1.77,-0.19),(1.75,-0.17),(1.71,-0.16),(1.65,-0.23),(1.67,-0.20),(1.47,-0.08),(1.50,-0.12),(1.44,-0.04),(1.40,-0.08),
(1.40,-0.13),(1.45,-0.14),(1.47,-0.18),(1.44,-0.19),(1.56,-0.12),(1.61,-0.13),(1.31,-0.16),(1.24,-0.16),(2.65,-0.22),(2.70,-0.22),
(2.65,-0.25),(2.23,-0.32),(2.32,-0.31),(1.70,-0.26),(1.73,-0.29),(1.77,-0.32),(1.83,-0.34),(1.86,-0.33),(1.92,-0.36),(1.90,-0.38),
(1.96,-0.37),(2.00,-0.34),(1.97,-0.35),(1.64,-0.34),(1.66,-0.33),(1.61,-0.38),(1.53,-0.36),(1.40,-0.37),(1.45,-0.38),(1.45,-0.42),
(1.46,-0.45),(1.40,-0.45),(1.53,-0.42),(1.59,-0.46),(1.64,-0.47),(1.71,-0.48),(1.74,-0.49),(1.78,-0.44),(1.74,-0.42),(1.87,-0.42),
(1.91,-0.42),(2.00,-0.45),(2.02,-0.49),(2.05,-0.54),(2.06,-0.51),(2.00,-0.54),(2.09,-0.44),(2.18,-0.49),(2.24,-0.48),(2.46,-0.40),
(2.43,-0.43),(2.58,-0.49),(2.66,-0.42),(2.53,-0.56),(2.18,-0.60),(2.09,-0.58),(2.08,-0.65),(2.02,-0.62),(1.86,-0.50),(1.84,-0.55),
(1.87,-0.58),(1.89,-0.60),(1.93,-0.63),(1.91,-0.67),(1.80,-0.63),(1.76,-0.67),(1.78,-0.69),(1.72,-0.72),(1.69,-0.70),(1.70,-0.67),
(1.70,-0.57),(1.64,-0.53),(1.64,-0.58),(1.64,-0.61),(1.65,-0.66),(1.59,-0.67),(1.57,-0.69),(1.54,-0.57),(1.56,-0.60),(1.50,-0.56),
(1.46,-0.58),(1.39,-0.54),(1.40,-0.57),(1.43,-0.63),(1.38,-0.66),(1.34,-0.66),(1.34,-0.70),(1.41,-0.71),(1.48,-0.69),(1.47,-0.73),
(1.63,-0.71),(1.59,-0.66),(2.67,-0.66),(2.73,-0.73),(2.33,-0.72),(2.32,-0.78),(2.41,-0.79),(2.15,-0.83),(2.25,-0.88),(2.08,-0.88),
(2.13,-0.95),(1.97,-0.95),(2.00,-0.89),(1.90,-0.90),(1.95,-0.85),(1.96,-0.81),(1.94,-0.75),(1.92,-0.77),(1.82,-0.76),(1.74,-0.85),
(1.74,-0.91),(1.80,-0.94),(1.84,-0.96),(1.75,-0.98),(1.68,-0.88),(1.67,-1.01),(1.63,-1.04),(1.73,-1.06),(1.83,-1.04),(2.02,-1.04),
(1.99,-1.09),(2.08,-1.13),(1.71,-1.18),(1.75,-1.20),(1.65,-1.25),(1.77,-1.38),(2.11,-1.34),(2.37,-0.98),(2.55,-0.93),(2.63,-0.85),
(2.71,-0.83),(1.60,-0.79),(1.62,-0.83),(1.54,-0.87),(1.47,-0.96),(1.41,-0.92),(1.42,-0.89),(1.44,-0.84),(1.41,-0.79),(1.52,-1.07),
(1.49,-1.12),(1.40,-1.10),(1.60,-1.10),(1.27,-0.65),(1.25,-0.78),(1.27,-0.87),(1.25,-0.89),(1.23,-0.94),(1.24,-0.06),(1.28,-0.08),
(1.25,-0.20),(1.31,-0.21),(1.27,-0.26),(1.24,-0.30),(1.28,-0.34),(1.24,-0.38),(1.27,-0.41),(1.31,-0.44),(1.28,-0.46),(1.35,-0.49),
(1.33,-0.50),(1.23,-0.51),(1.38,-0.33),(1.40,-0.38),(1.36,-0.41),(1.36,-0.43),
(2.92,-0.10),(2.92,-0.15),(2.92,-0.58),(2.92,-0.96),(2.92,-1.22),
]

gx, gy = np.array(gray_pts).T
sx, sy = np.array(ship_pts).T

W, H = 1628, 1082
fig = plt.figure(figsize=(W / 100, H / 100), dpi=100, facecolor=BG)

# header overlay in pixel coordinates
hax = fig.add_axes([0, 0, 1, 1])
hax.set_xlim(0, W)
hax.set_ylim(H, 0)
hax.axis('off')

hax.text(28, 49, title, color='#f2f2f2', fontsize=20.3, fontweight='bold', va='baseline', ha='left')

renderer = fig.canvas.get_renderer()
SUB_C = '#9a9a9a'
SUB_FS = 17.8
x = 28
for txt, style in sub_line_1:
    t = hax.text(x, 92.5, txt, color=SUB_C, fontsize=SUB_FS, style=style, va='baseline', ha='left')
    x += t.get_window_extent(renderer).width
hax.text(28, 131, sub_line_2, color=SUB_C, fontsize=SUB_FS, va='baseline', ha='left')

pill_boxes = [(29, 293, 162), (306, 620, 162), (633, 978, 162), (991, 1291, 162), (1305, 1593, 162), (29, 280, 226)]
PILL_H = 50
for i, (lab, col) in enumerate(zip(policy_labels, policy_colors)):
    x0, x1, y0 = pill_boxes[i]
    sel = (i == selected_policy)
    box = FancyBboxPatch((x0, y0), x1 - x0, PILL_H,
                         boxstyle='round,pad=0,rounding_size=25',
                         facecolor='#292929' if sel else '#1e1e1e',
                         edgecolor='#4f8fe6' if sel else '#393939',
                         linewidth=2.0 if sel else 1.4)
    hax.add_patch(box)
    sq = FancyBboxPatch((x0 + 23, y0 + PILL_H / 2 - 9.5), 19, 19,
                        boxstyle='round,pad=0,rounding_size=4',
                        facecolor=col, edgecolor='none')
    hax.add_patch(sq)
    hax.text(x0 + 55, y0 + PILL_H / 2 + 1, lab, color='#ffffff' if sel else '#d6d6d6',
             fontsize=17.2, fontweight='bold' if sel else 'semibold', va='center', ha='left')

# main scatter axes
ax = fig.add_axes([128 / W, 1 - 973 / H, (1576 - 128) / W, (973 - 329) / H])
ax.set_facecolor(BG)
ax.set_xlim(-3.0, 2.925)
ax.set_ylim(-1.39, 1.49)
for s in ax.spines.values():
    s.set_visible(False)
ax.set_xticks(x_ticks)
ax.set_xticklabels(x_ticklabels)
ax.set_yticks(y_ticks)
ax.set_yticklabels(y_ticklabels)
ax.tick_params(length=0, colors='#8e8e8e', labelsize=16)
ax.tick_params(axis='x', pad=11)
ax.tick_params(axis='y', pad=12)
ax.grid(True, color='#313131', linewidth=1.1, zorder=0)
ax.set_axisbelow(True)

ax.scatter(gx, gy, s=30, color='#a6a6a6', alpha=0.33, linewidths=0, clip_on=False, zorder=2)
ax.scatter(sx, sy, s=82, color='#e2693b', alpha=0.82, linewidths=0, clip_on=False, zorder=3)

ax.axvline(avg_primary, color='#cfcfc8', linewidth=1.3, dashes=(4, 3.5), zorder=4)
ax.axhline(avg_guardrail, color='#cfcfc8', linewidth=1.3, dashes=(4, 3.5), zorder=4)
ax.scatter([avg_primary], [avg_guardrail], s=290, color='white', edgecolors=BG, linewidths=2.8, zorder=6, clip_on=False)

label = f"avg ship: +{avg_primary:.2f} pp primary, \u2212{abs(avg_guardrail):.2f} pp guardrail"
ax.annotate(label, xy=(avg_primary, avg_guardrail), xytext=(-13, 9), textcoords='offset points',
            ha='right', va='baseline', color='white', fontsize=16.7, fontweight='bold', zorder=7,
            path_effects=[pe.withStroke(linewidth=4, foreground=BG)])

fig.text(852 / W, 1 - 1040 / H, x_label, color='#8a8a8a', fontsize=16, ha='center', va='center')
fig.text(45.7 / W, 1 - 650 / H, y_label, color='#8a8a8a', fontsize=16, ha='center', va='center', rotation=90)

fig.savefig('out.png', dpi=100, facecolor=BG)
